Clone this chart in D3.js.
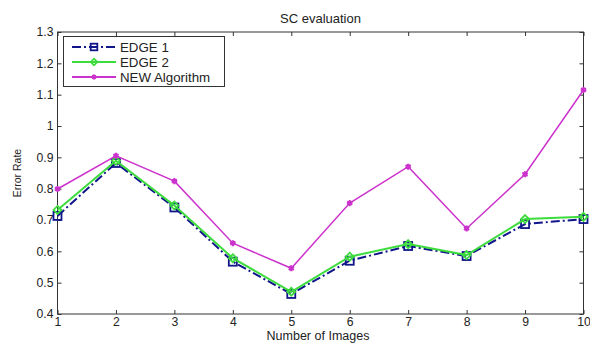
<!DOCTYPE html>
<html><head><meta charset="utf-8">
<script src="https://cdn.jsdelivr.net/npm/d3@7"></script>
<style>body{margin:0;background:#fff}svg{display:block}text{font-family:"Liberation Sans",Arial,sans-serif;fill:#222}</style>
</head><body>
<svg id="c" width="590" height="343"></svg>
<script>
const images = [1,2,3,4,5,6,7,8,9,10];
const edge1 = [0.713,0.882,0.740,0.567,0.464,0.570,0.617,0.585,0.687,0.703];
const edge2 = [0.732,0.889,0.746,0.578,0.471,0.583,0.623,0.588,0.703,0.710];
const newAlg = [0.799,0.905,0.824,0.626,0.546,0.754,0.870,0.673,0.846,1.115];
const yTicks = [0.4,0.5,0.6,0.7,0.8,0.9,1,1.1,1.2,1.3];
const seriesNames = ["EDGE 1","EDGE 2","NEW Algorithm"];

const svg = d3.select("#c");
const L=57.5, R=583.5, T=32, B=314;
const x = d3.scaleLinear().domain([1,10]).range([L,R]);
const y = d3.scaleLinear().domain([0.4,1.3]).range([B,T]);

svg.append("rect").attr("x",L).attr("y",T).attr("width",R-L).attr("height",B-T)
  .attr("fill","none").attr("stroke","#333").attr("stroke-width",1);

const ax = d3.axisBottom(x).tickValues(images).tickFormat(d3.format("d")).tickSizeInner(-4).tickSizeOuter(0).tickPadding(3);
const gx = svg.append("g").attr("transform",`translate(0,${B})`).call(ax);
const gxt = svg.append("g").attr("transform",`translate(0,${T})`).call(d3.axisTop(x).tickValues(images).tickFormat("").tickSizeInner(-4).tickSizeOuter(0));
const ay = d3.axisLeft(y).tickValues(yTicks).tickFormat(d=>d===1?"1":d3.format(".1f")(d)).tickSizeInner(-4).tickSizeOuter(0).tickPadding(4);
const gy = svg.append("g").attr("transform",`translate(${L},0)`).call(ay);
const gyr = svg.append("g").attr("transform",`translate(${R},0)`).call(d3.axisRight(y).tickValues(yTicks).tickFormat("").tickSizeInner(-4).tickSizeOuter(0));
[gx,gxt,gy,gyr].forEach(g=>{g.select(".domain").remove();g.selectAll("line").attr("stroke","#333");g.selectAll("text").style("font-family","Liberation Sans, Arial, sans-serif").style("font-size","12.2px").attr("fill","#333");});

svg.append("text").attr("x",(L+R)/2).attr("y",23).attr("text-anchor","middle").style("font-size","13px").text("SC evaluation");
svg.append("text").attr("x",318).attr("y",340).attr("text-anchor","middle").style("font-size","12.5px").text("Number of Images");
svg.append("text").attr("transform",`translate(21,173) rotate(-90)`).attr("text-anchor","middle").style("font-size","10.5px").text("Error Rate");

const line = d3.line().x((d,i)=>x(images[i])).y(d=>y(d));
const styles = [
  {data:edge1,color:"#10168a",dash:"9,3,2,3",marker:"square"},
  {data:edge2,color:"#3ddc3d",dash:null,marker:"diamond"},
  {data:newAlg,color:"#cc33cc",dash:null,marker:"star"}
];
const plot = svg.append("g");
function drawMarker(g,type,cx,cy,color,s){
  if(type==="square"){
    g.append("rect").attr("x",cx-s).attr("y",cy-s).attr("width",2*s).attr("height",2*s).attr("fill","none").attr("stroke",color).attr("stroke-width",1.8);
  } else if(type==="diamond"){
    g.append("path").attr("d",`M${cx},${cy-s}L${cx+s},${cy}L${cx},${cy+s}L${cx-s},${cy}Z`).attr("fill","none").attr("stroke",color).attr("stroke-width",1.8);
  } else {
    g.append("path").attr("d",d3.symbol(d3.symbolAsterisk,s*s*1.6)()).attr("transform",`translate(${cx},${cy})`).attr("fill","none").attr("stroke",color).attr("stroke-width",2);
    g.append("circle").attr("cx",cx).attr("cy",cy).attr("r",s*0.6).attr("fill",color);
  }
}
styles.forEach(s=>{
  plot.append("path").attr("d",line(s.data)).attr("fill","none").attr("stroke",s.color).attr("stroke-width",s.marker==="star"?1.5:2).attr("stroke-dasharray",s.dash);
  s.data.forEach((v,i)=>drawMarker(plot,s.marker,x(images[i]),y(v),s.color,4));
});

const lg = svg.append("g");
lg.append("rect").attr("x",63.5).attr("y",36.5).attr("width",161).attr("height",50).attr("fill","#fff").attr("stroke","#333");
styles.forEach((s,i)=>{
  const yy = 47+i*15;
  lg.append("line").attr("x1",72).attr("x2",116).attr("y1",yy).attr("y2",yy).attr("stroke",s.color).attr("stroke-width",2).attr("stroke-dasharray",s.dash);
  drawMarker(lg,s.marker,94,yy,s.color,3.3);
  lg.append("text").attr("x",120).attr("y",yy+4.5).style("font-size","13.3px").text(seriesNames[i]);
});
</script>
</body></html>
